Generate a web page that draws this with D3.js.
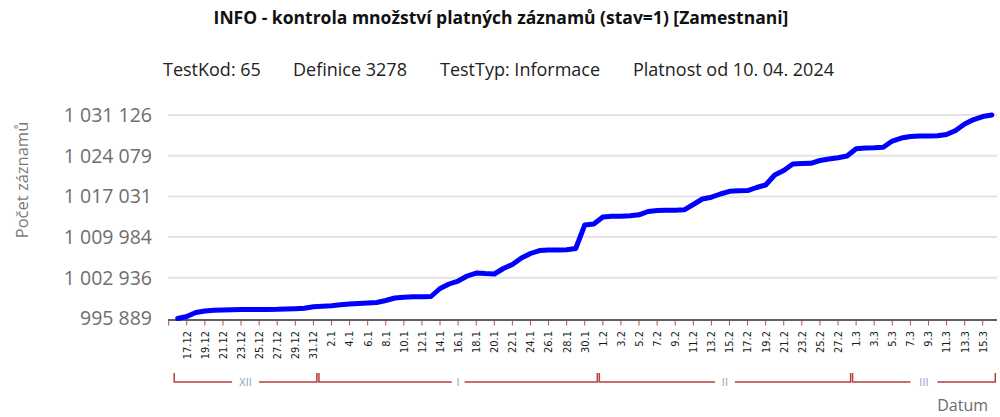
<!DOCTYPE html>
<html>
<head>
<meta charset="utf-8">
<script src="https://cdn.jsdelivr.net/npm/d3@7"></script>
<style>
  body { margin: 0; background: #fff; }
  svg { display: block; font-family: "Open Sans", sans-serif; }
</style>
</head>
<body>
<svg width="1000" height="417"></svg>
<script>
// dny na ose x (16.12.2023 - 16.3.2024, bez 29.2)
const days = [
  "16.12","17.12","18.12","19.12","20.12","21.12","22.12","23.12","24.12","25.12","26.12","27.12","28.12","29.12","30.12","31.12",
  "1.1","2.1","3.1","4.1","5.1","6.1","7.1","8.1","9.1","10.1","11.1","12.1","13.1","14.1","15.1","16.1","17.1","18.1","19.1","20.1",
  "21.1","22.1","23.1","24.1","25.1","26.1","27.1","28.1","29.1","30.1","31.1",
  "1.2","2.2","3.2","4.2","5.2","6.2","7.2","8.2","9.2","10.2","11.2","12.2","13.2","14.2","15.2","16.2","17.2","18.2","19.2","20.2",
  "21.2","22.2","23.2","24.2","25.2","26.2","27.2","28.2",
  "1.3","2.3","3.3","4.3","5.3","6.3","7.3","8.3","9.3","10.3","11.3","12.3","13.3","14.3","15.3","16.3"
];

// pocet zaznamu
const counts = [
  995889, 996235, 996928, 997188, 997309, 997361, 997395, 997430, 997447, 997460, 997465, 997482, 997534, 997586, 997672, 997915,
  998001, 998088, 998261, 998400, 998504, 998573, 998659, 999006, 999439, 999577, 999664, 999670, 999698, 1001084, 1001863, 1002382,
  1003248, 1003767, 1003663, 1003594, 1004547, 1005239, 1006365, 1007144, 1007663, 1007750, 1007760, 1007784, 1008010, 1012079, 1012252,
  1013464, 1013585, 1013602, 1013671, 1013845, 1014416, 1014589, 1014624, 1014641, 1014710, 1015628, 1016580, 1016892, 1017446, 1017914,
  1018000, 1018035, 1018572, 1019004, 1020736, 1021515, 1022641, 1022727, 1022762, 1023247, 1023506, 1023714, 1024026, 1025273, 1025410,
  1025445, 1025550, 1026623, 1027143, 1027402, 1027489, 1027495, 1027523, 1027749, 1028441, 1029566, 1030346, 1030865, 1031126
];

const yTicks = [995889, 1002936, 1009984, 1017031, 1024079, 1031126];

const months = ["XII", "I", "II", "III"];
const monthDays = [16, 31, 28, 16];

const title = "INFO - kontrola množství platných záznamů (stav=1) [Zamestnani]";
const info = ["TestKod: 65", "Definice 3278", "TestTyp: Informace", "Platnost od 10. 04. 2024"];
const infoX = [163, 293, 440, 633];

const svg = d3.select("svg");

const plotLeft = 168, plotRight = 997, plotTop = 115, plotBottom = 318.5;

const x = d3.scaleBand().domain(days).range([173.2, 996.3]);
const y = d3.scaleLinear().domain([yTicks[0], yTicks[yTicks.length - 1]]).range([plotBottom, plotTop]);
const cx = d => x(d) + x.bandwidth() / 2;

const fmt = d3.formatLocale({decimal: ",", thousands: " ", grouping: [3], currency: ["", ""]}).format(",d");

// nadpis
svg.append("text")
    .attr("x", 501).attr("y", 24)
    .attr("text-anchor", "middle")
    .style("font-size", "17.5px").style("font-weight", "bold")
    .attr("fill", "#111")
    .text(title);

svg.append("g").selectAll("text")
    .data(info)
    .join("text")
    .attr("x", (d, i) => infoX[i]).attr("y", 76)
    .style("font-size", "18px")
    .attr("fill", "#222")
    .text(d => d);

// mrizka a osa y
svg.append("g")
    .selectAll("line")
    .data(yTicks.slice(1))
    .join("line")
    .attr("x1", plotLeft).attr("x2", plotRight)
    .attr("y1", d => y(d)).attr("y2", d => y(d))
    .attr("stroke", "#e3e3e3").attr("stroke-width", 2);

svg.append("g")
    .selectAll("text")
    .data(yTicks)
    .join("text")
    .attr("x", 152).attr("y", d => y(d))
    .attr("dy", "0.35em")
    .attr("text-anchor", "end")
    .style("font-size", "19.5px")
    .attr("fill", "#6e6e6e")
    .text(d => fmt(d));

svg.append("text")
    .attr("transform", "translate(28,180) rotate(-90)")
    .attr("text-anchor", "middle")
    .style("font-size", "16.5px")
    .attr("fill", "#7a7a7a")
    .text("Počet záznamů");

// osa x
svg.append("line")
    .attr("x1", plotLeft).attr("x2", plotRight)
    .attr("y1", plotBottom + 1.5).attr("y2", plotBottom + 1.5)
    .attr("stroke", "#606060").attr("stroke-width", 2);

const labelDays = days.filter((d, i) => i % 2 === 1);
const tickX = [x.range()[0] - x.bandwidth() / 2].concat(labelDays.map(cx));

svg.append("g")
    .selectAll("line")
    .data(tickX)
    .join("line")
    .attr("x1", d => d).attr("x2", d => d)
    .attr("y1", plotBottom + 2.5).attr("y2", plotBottom + 7)
    .attr("stroke", "#c04848").attr("stroke-width", 1);

svg.append("g")
    .selectAll("text")
    .data(labelDays)
    .join("text")
    .attr("transform", d => `translate(${cx(d)},331) rotate(-90)`)
    .attr("dy", "0.35em")
    .attr("text-anchor", "end")
    .style("font-family", "'DejaVu Sans Condensed', sans-serif")
    .style("font-size", "11px")
    .attr("fill", "#1a1a1a")
    .text(d => d);

// mesice
let start = 0;
const monthData = months.map((m, i) => {
    const a = days[start], b = days[start + monthDays[i] - 1];
    start += monthDays[i];
    return {label: m, x0: x(a), x1: x(b) + x.bandwidth()};
});

const mg = svg.append("g").selectAll("g").data(monthData).join("g");
mg.append("path")
    .attr("d", d => `M${d.x0 + 1},373V382H${d.x1 - 1}V373`)
    .attr("fill", "none")
    .attr("stroke", "#b83c3c").attr("stroke-width", 1.5);
mg.append("rect")
    .attr("x", d => (d.x0 + d.x1) / 2 - (d.label.length * 3.5 + 3))
    .attr("width", d => d.label.length * 7 + 6)
    .attr("y", 376).attr("height", 12)
    .attr("fill", "#fff");
mg.append("text")
    .attr("x", d => (d.x0 + d.x1) / 2).attr("y", 382)
    .attr("dy", "0.35em")
    .attr("text-anchor", "middle")
    .style("font-size", "11px")
    .attr("fill", "#8aa3c0")
    .text(d => d.label);

svg.append("text")
    .attr("x", 988).attr("y", 411)
    .attr("text-anchor", "end")
    .style("font-size", "16px")
    .attr("fill", "#6b6b6b")
    .text("Datum");

// cara
const line = d3.line()
    .x((d, i) => cx(days[i]))
    .y(d => y(d));

svg.append("path")
    .datum(counts)
    .attr("d", line)
    .attr("fill", "none")
    .attr("stroke", "#0000ff")
    .attr("stroke-width", 5)
    .attr("stroke-linejoin", "round")
    .attr("stroke-linecap", "round");
</script>
</body>
</html>
